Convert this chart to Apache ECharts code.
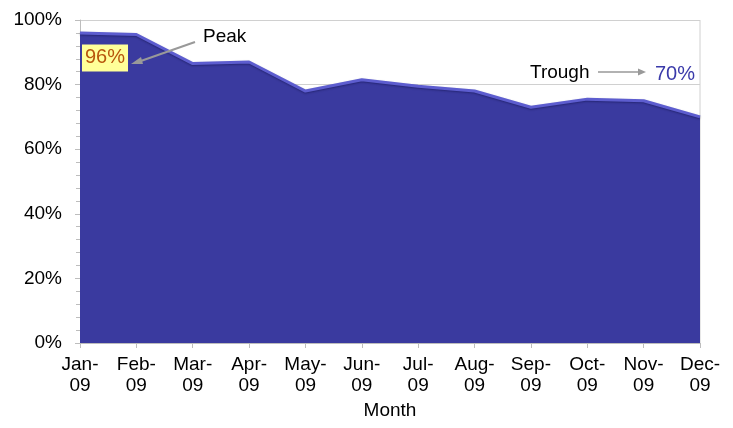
<!DOCTYPE html>
<html><head><meta charset="utf-8">
<script src="https://cdn.jsdelivr.net/npm/echarts@6/dist/echarts.min.js"></script>
<style>html,body{margin:0;padding:0;background:#fff}#c{width:733px;height:428px}</style>
</head><body><div id="c"></div>
<script>
const months = ['Jan-09','Feb-09','Mar-09','Apr-09','May-09','Jun-09','Jul-09','Aug-09','Sep-09','Oct-09','Nov-09','Dec-09'];
const occupancy = [96, 95.5, 86.5, 87, 78, 81.5, 79.5, 78, 73, 75.5, 75, 70];
const yTicks = [0, 20, 40, 60, 80, 100];
const peakLabel = '96%';
const troughLabel = '70%';

const chart = echarts.init(document.getElementById('c'), null, {renderer:'canvas'});
const font = '"Liberation Sans", Arial, sans-serif';
chart.setOption({
  animation: false,
  textStyle: {fontFamily: font},
  grid: {left: 80, right: 33, top: 20, bottom: 85, containLabel: false, outerBoundsMode: 'none'},
  xAxis: {
    type: 'category', data: months, boundaryGap: false,
    name: 'Month', nameLocation: 'middle', nameGap: 56,
    nameTextStyle: {fontSize: 19, color: '#000', fontFamily: font},
    axisLine: {lineStyle: {color: '#bdbdbd'}},
    axisTick: {show: true, alignWithLabel: true, length: 5, lineStyle: {color: '#bdbdbd'}},
    axisLabel: {fontSize: 19, color: '#000', margin: 11, lineHeight: 21, fontFamily: font,
      formatter: v => v.replace('-', '-\n')}
  },
  yAxis: {
    type: 'value', min: 0, max: 100, interval: 20,
    axisLine: {show: true, lineStyle: {color: '#bdbdbd'}},
    axisTick: {show: true, length: 5, lineStyle: {color: '#bdbdbd'}},
    minorTick: {show: true, splitNumber: 5, length: 4, lineStyle: {color: '#bdbdbd'}},
    splitLine: {show: true, lineStyle: {color: '#d0d0d0'}},
    axisLabel: {fontSize: 19, color: '#000', margin: 18, fontFamily: font,
      formatter: v => yTicks.includes(v) ? v + '%' : ''}
  },
  series: [{
    type: 'line', data: occupancy, symbol: 'none',
    lineStyle: {color: '#5d5dcf', width: 3, shadowColor: 'rgba(0,0,40,0.35)', shadowBlur: 2, shadowOffsetY: 1},
    areaStyle: {color: '#3a3a9f', opacity: 1},
    z: 3,
    markPoint: {
      symbol: 'rect', symbolSize: 0,
      data: [
        {coord: [0, occupancy[0]], label: {show: true, formatter: peakLabel, position: 'inside',
          offset: [25, 25], fontSize: 20, color: '#b8560c', backgroundColor: '#ffff99',
          padding: [4, 3, 3, 3], fontFamily: font}},
        {coord: [11, occupancy[11]], label: {show: true, formatter: troughLabel, position: 'inside',
          offset: [-25, -42], fontSize: 20, color: '#3a3aaa', fontFamily: font}}
      ]
    }
  }],
  graphic: [
    {type: 'line', shape: {x1: 700, y1: 20, x2: 700, y2: 343}, style: {stroke: '#d0d0d0', lineWidth: 1}, z: 1},
    {type: 'text', left: 203, top: 27, style: {text: 'Peak', fontSize: 19, fill: '#000', fontFamily: font}},
    {type: 'line', shape: {x1: 195, y1: 42, x2: 138, y2: 62}, style: {stroke: '#999', lineWidth: 2}, z: 10},
    {type: 'polygon', shape: {points: [[131, 64], [141, 57], [143, 64]]}, style: {fill: '#999'}, z: 10},
    {type: 'text', left: 530, top: 63, style: {text: 'Trough', fontSize: 19, fill: '#000', fontFamily: font}},
    {type: 'line', shape: {x1: 598, y1: 72, x2: 640, y2: 72}, style: {stroke: '#999', lineWidth: 1.5}, z: 10},
    {type: 'polygon', shape: {points: [[646, 72], [638, 68.5], [638, 75.5]]}, style: {fill: '#999'}, z: 10}
  ]
});
</script></body></html>
